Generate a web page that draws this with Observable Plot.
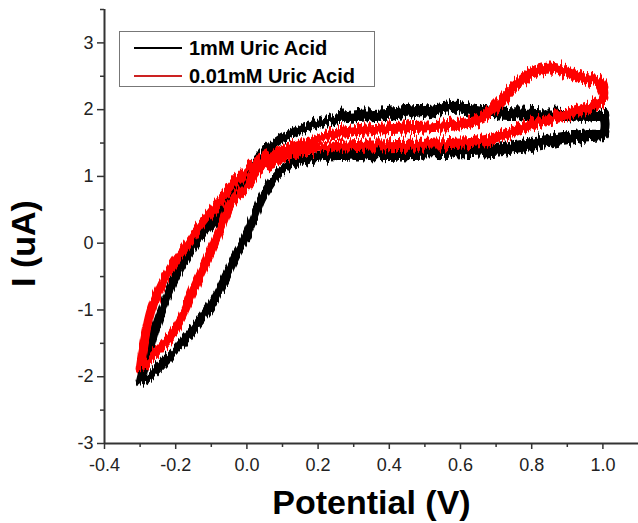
<!DOCTYPE html>
<html>
<head>
<meta charset="utf-8">
<script src="https://cdn.jsdelivr.net/npm/d3@7"></script>
<script src="https://cdn.jsdelivr.net/npm/@observablehq/plot@0.6"></script>
<style>
  html, body { margin: 0; padding: 0; background: #fff; }
  #wrap { position: relative; width: 638px; height: 523px; }
  #legend {
    position: absolute; left: 119px; top: 31px; width: 256px; height: 56px;
    border: 1px solid #777; background: #fff; box-sizing: border-box;
    font-family: "Liberation Sans", Arial, sans-serif; font-weight: bold; font-size: 20px; color: #000;
  }
  .row { position: absolute; left: 14px; height: 28px; display: flex; align-items: center; }
  .row .sw { width: 48px; height: 0; border-top: 2px solid #000; margin-right: 7px; }
</style>
</head>
<body>
<div id="wrap"></div>
<script>
// ---- axes ----
const xDomain = [-0.4, 1.1];
const yDomain = [-3, 3.5];
const xTicks = [-0.4, -0.2, 0.0, 0.2, 0.4, 0.6, 0.8, 1.0];
const xMinorTicks = [-0.3, -0.1, 0.1, 0.3, 0.5, 0.7, 0.9];
const yTicks = [-3, -2, -1, 0, 1, 2, 3];
const yMinorTicks = [-2.5, -1.5, -0.5, 0.5, 1.5, 2.5, 3.5];
const xLabel = "Potential (V)";
const yLabel = "I (uA)";
const seriesNames = ["1mM Uric Acid", "0.01mM Uric Acid"];

// ---- 1mM Uric Acid (black) : [potential V, current uA] ----
const black1mMRise = [[-0.300,-2.05],[-0.288,-1.80],[-0.272,-1.55],[-0.255,-1.25],[-0.235,-0.95],[-0.210,-0.62],[-0.180,-0.30],[-0.150,-0.05],[-0.120,0.15],[-0.090,0.35],[-0.060,0.60],[-0.030,0.85],[0.000,1.05],[0.030,1.26],[0.060,1.42],[0.095,1.56],[0.140,1.68],[0.190,1.78]];
const black1mMUpper = [[0.250,1.86],[0.300,1.89],[0.350,1.91],[0.400,1.93],[0.450,1.96],[0.500,1.99],[0.550,2.03],[0.590,2.05],[0.630,2.00],[0.680,1.96],[0.750,1.94],[0.800,1.93],[0.850,1.92],[0.900,1.91],[0.950,1.90],[1.000,1.90]];
const black1mMLower = [[1.000,1.64],[0.950,1.62],[0.900,1.58],[0.850,1.53],[0.800,1.48],[0.750,1.43],[0.700,1.39],[0.600,1.37],[0.500,1.35],[0.400,1.33],[0.300,1.32],[0.220,1.30]];
const black1mMFall = [[0.170,1.25],[0.140,1.20],[0.110,1.13],[0.090,1.05],[0.065,0.88],[0.040,0.65],[0.015,0.30],[-0.010,0.00],[-0.027,-0.15],[-0.050,-0.40],[-0.075,-0.67],[-0.100,-0.92],[-0.130,-1.15],[-0.167,-1.40],[-0.200,-1.60],[-0.234,-1.78],[-0.265,-1.95],[-0.285,-2.02],[-0.300,-2.05]];

// ---- 0.01mM Uric Acid (red) ----
const red001mMRise = [[-0.300,-1.85],[-0.293,-1.60],[-0.283,-1.32],[-0.270,-1.02],[-0.250,-0.74],[-0.225,-0.47],[-0.195,-0.22],[-0.165,0.00],[-0.140,0.19],[-0.110,0.40],[-0.080,0.60],[-0.047,0.83],[-0.015,1.02],[0.018,1.19],[0.055,1.30],[0.094,1.39],[0.140,1.47],[0.186,1.53]];
const red001mMUpper = [[0.230,1.62],[0.280,1.67],[0.350,1.70],[0.420,1.72],[0.500,1.74],[0.580,1.77],[0.650,1.85],[0.680,1.95],[0.710,2.10],[0.740,2.28],[0.770,2.42],[0.800,2.55],[0.830,2.61],[0.860,2.62],[0.890,2.58],[0.920,2.52],[0.960,2.46],[0.990,2.42],[1.000,2.32]];
const red001mMLower = [[1.000,2.15],[0.970,2.06],[0.930,1.98],[0.880,1.90],[0.820,1.82],[0.760,1.70],[0.700,1.58],[0.650,1.52],[0.550,1.49],[0.450,1.48],[0.350,1.47],[0.250,1.45]];
const red001mMFall = [[0.180,1.40],[0.120,1.30],[0.070,1.20],[0.029,1.08],[0.000,0.85],[-0.025,0.72],[-0.047,0.58],[-0.070,0.28],[-0.095,-0.05],[-0.122,-0.37],[-0.150,-0.70],[-0.187,-1.16],[-0.215,-1.40],[-0.243,-1.57],[-0.265,-1.70],[-0.285,-1.78],[-0.300,-1.85]];

const colors = ["#000000", "#ff0000"];

// full closed loops (built from the arrays above)
const blackLoop = [...black1mMRise, ...black1mMUpper, ...black1mMLower, ...black1mMFall];
const redLoop = [...red001mMRise, ...red001mMUpper, ...red001mMLower, ...red001mMFall];

const lineOpts = (c, w) => ({x: d => d[0], y: d => d[1], stroke: c, strokeWidth: w,
  strokeLinejoin: "round", strokeLinecap: "round", curve: "catmull-rom"});

const axisColor = "#333";
const chart = Plot.plot({
  width: 638, height: 523,
  marginLeft: 104, marginRight: 0, marginTop: 9, marginBottom: 80,
  x: {domain: xDomain, label: null},
  y: {domain: yDomain, label: null},
  style: {fontFamily: "'Liberation Sans', Arial, sans-serif", background: "#fff", overflow: "visible", color: "#222"},
  marks: [
    // series (black under red)
    Plot.line(blackLoop, lineOpts(colors[0], 9)),
    Plot.line(black1mMUpper, lineOpts(colors[0], 13)),
    Plot.line(black1mMLower, lineOpts(colors[0], 13)),
    Plot.line(redLoop, lineOpts(colors[1], 9)),
    Plot.line(red001mMUpper, lineOpts(colors[1], 11)),
    Plot.line(red001mMLower, lineOpts(colors[1], 11)),
    // axes
    Plot.ruleX([xDomain[0]], {stroke: axisColor, strokeWidth: 2}),
    Plot.ruleY([yDomain[0]], {stroke: axisColor, strokeWidth: 2}),
    Plot.axisX(xTicks, {tickSize: 6, tickPadding: 9, tickFormat: d => d.toFixed(1), fontSize: 18, stroke: axisColor, strokeWidth: 1.5, label: null}),
    Plot.axisX(xMinorTicks, {tickSize: 4, tickFormat: () => "", stroke: axisColor, strokeWidth: 1.5, label: null}),
    Plot.axisY(yTicks, {tickSize: 7, tickPadding: 4, tickFormat: d => String(d), fontSize: 18, stroke: axisColor, strokeWidth: 1.5, label: null}),
    Plot.axisY(yMinorTicks, {tickSize: 4, tickFormat: () => "", stroke: axisColor, strokeWidth: 1.5, label: null}),
    // axis titles
    Plot.text([xLabel], {text: d => d, frameAnchor: "bottom", textAnchor: "middle", lineAnchor: "middle", dy: 60, fontSize: 34, fontWeight: "bold", fill: "#000"}),
    Plot.text([yLabel], {text: d => d, frameAnchor: "left", textAnchor: "middle", lineAnchor: "middle", dx: -80, dy: 17, rotate: -90, fontSize: 34, fontWeight: "bold", fill: "#000"})
  ]
});

// rough (noisy-looking) stroke texture, purely a rendering style
const NS = "http://www.w3.org/2000/svg";
const defs = document.createElementNS(NS, "defs");
defs.innerHTML = `
  <filter id="rough" x="-5%" y="-15%" width="110%" height="130%" color-interpolation-filters="sRGB">
    <feTurbulence type="fractalNoise" baseFrequency="0.45 0.015" numOctaves="2" seed="7" result="n"/>
    <feColorMatrix in="n" type="matrix" values="0 0 0 0 0.5  0 1 0 0 0  0 0 0 0 0  0 0 0 0 1" result="m"/>
    <feDisplacementMap in="SourceGraphic" in2="m" scale="16" xChannelSelector="R" yChannelSelector="G"/>
  </filter>`;
chart.insertBefore(defs, chart.firstChild);
chart.querySelectorAll('g[aria-label="line"]').forEach(g => g.setAttribute("filter", "url(#rough)"));

const wrap = document.getElementById("wrap");
wrap.appendChild(chart);

// legend
const legend = document.createElement("div");
legend.id = "legend";
const swatchColors = ["#000", "#cc2222"];
seriesNames.forEach((name, i) => {
  const row = document.createElement("div");
  row.className = "row";
  row.style.top = (2 + i * 28) + "px";
  const sw = document.createElement("span");
  sw.className = "sw";
  sw.style.borderTopColor = swatchColors[i];
  const t = document.createElement("span");
  t.textContent = name;
  row.appendChild(sw); row.appendChild(t);
  legend.appendChild(row);
});
wrap.appendChild(legend);
</script>
</body>
</html>
